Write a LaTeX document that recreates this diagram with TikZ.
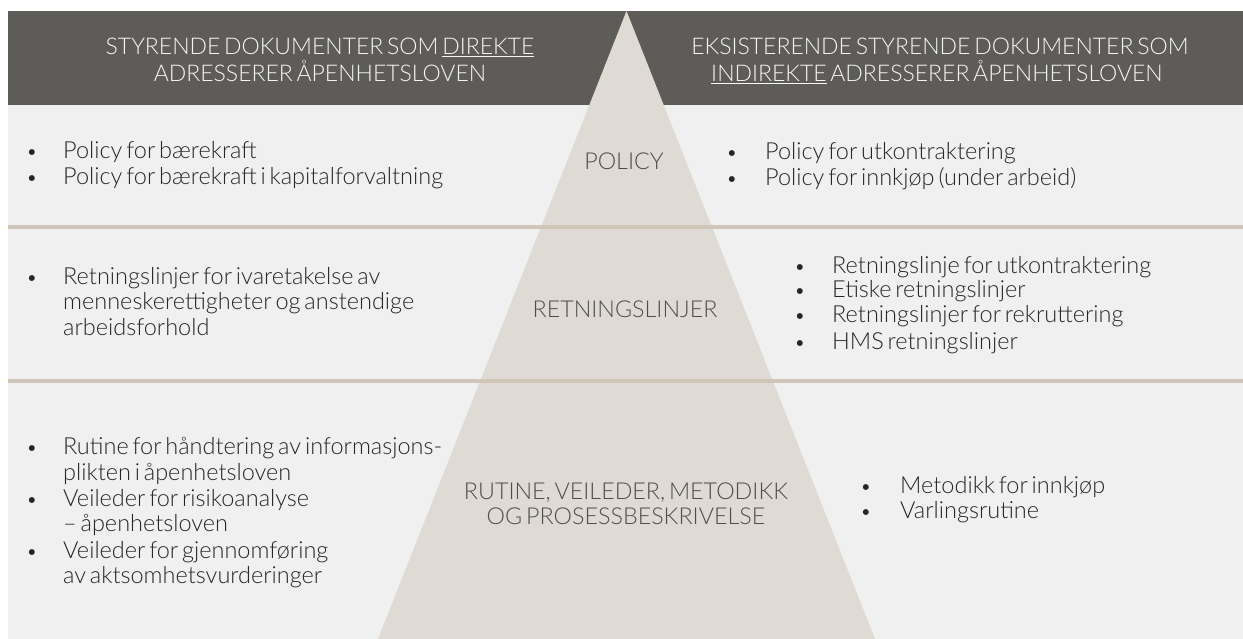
\documentclass[tikz,border=0pt]{standalone}
\usepackage{fontspec}
\setmainfont{Lato}[UprightFont={* Light}, WordSpace=0.6]
\definecolor{hdrbg}{HTML}{5E5C59}
\definecolor{bodybg}{HTML}{F0F0F0}
\definecolor{tri}{HTML}{DFDBD4}
\definecolor{sep}{HTML}{CFC5B9}
\definecolor{bodytext}{HTML}{262626}
\definecolor{lvltext}{HTML}{4F4D4B}
\definecolor{hdrtext}{HTML}{F6F6F6}
\tikzset{
  body/.style={font=\fontsize{23.5}{28}\selectfont, text=bodytext, inner sep=0pt, anchor=base west},
  bul/.style={font=\fontsize{20}{25}\selectfont, text=bodytext, inner sep=0pt, anchor=base},
  hdr/.style={font=\fontsize{23}{28}\selectfont, text=hdrtext, inner sep=0pt, anchor=base},
  lvl/.style={font=\fontsize{23.3}{28}\selectfont, text=lvltext, inner sep=0pt, anchor=base},
  sepline/.style={draw=sep, line width=4pt},
}
\begin{document}
\begin{tikzpicture}[x=1pt,y=-1pt]
\useasboundingbox (0,0) rectangle (1243,639);
\fill[white] (0,0) rectangle (1243,639);
% panels
\fill[bodybg] (8,105) rectangle (1243,639);
\fill[hdrbg] (8,11) rectangle (1243,105);
% pyramid
\fill[tri] (626.5,11) -- (875,639) -- (378,639) -- cycle;
% separators
\coordinate (s1l) at (8,227); \coordinate (s1r) at (1243,227);
\coordinate (s2l) at (8,381); \coordinate (s2r) at (1243,381);
\draw[sepline] (s1l) -- (s1r);
\draw[sepline] (s2l) -- (s2r);
% header
\node[hdr] (hl1) at (320,55) {STYRENDE DOKUMENTER SOM \underline{DIREKTE}};
\node[hdr] (hl2) at (320,82) {ADRESSERER ÅPENHETSLOVEN};
\node[hdr] (hr1) at (940,55) {EKSISTERENDE STYRENDE DOKUMENTER SOM};
\node[hdr] (hr2) at (937,82) {\underline{INDIREKTE} ADRESSERER ÅPENHETSLOVEN};
% level labels
\node[lvl] (lv1) at (624,170) {POLICY};
\node[lvl] (lv2) at (625,317) {RETNINGSLINJER};
\node[lvl] (lv3a) at (626,499) {RUTINE, VEILEDER, METODIKK};
\node[lvl] (lv3b) at (626,524) {OG PROSESSBESKRIVELSE};
% row 1 left
\node[bul] (b1a) at (32,159) {•};
\node[body] (t1a) at (63,159) {Policy for bærekraft};
\node[bul] (b1b) at (32,185) {•};
\node[body] (t1b) at (63,185) {Policy for bærekraft i kapitalforvaltning};
% row 1 right
\node[bul] (b1c) at (732,160) {•};
\node[body] (t1c) at (765,160) {Policy for utkontraktering};
\node[bul] (b1d) at (732,186) {•};
\node[body] (t1d) at (765,186) {Policy for innkjøp (under arbeid)};
% row 2 left
\node[bul] (b2a) at (32,284) {•};
\node[body] (t2a) at (63,284) {Retningslinjer for ivaretakelse av};
\node[body] (t2b) at (63,309) {menneskerettigheter og anstendige};
\node[body] (t2c) at (63,335) {arbeidsforhold};
% row 2 right
\node[bul] (b2d) at (800,273) {•};
\node[body] (t2d) at (832,273) {Retningslinje for utkontraktering};
\node[bul] (b2e) at (800,298) {•};
\node[body] (t2e) at (832,298) {Etiske retningslinjer};
\node[bul] (b2f) at (800,323) {•};
\node[body] (t2f) at (832,323) {Retningslinjer for rekruttering};
\node[bul] (b2g) at (800,349) {•};
\node[body] (t2g) at (832,349) {HMS retningslinjer};
% row 3 left
\node[bul] (b3a) at (32,454) {•};
\node[body] (t3a) at (63,454) {Rutine for håndtering av informasjons-};
\node[body] (t3b) at (63,480) {plikten i åpenhetsloven};
\node[bul] (b3c) at (32,506) {•};
\node[body] (t3c) at (63,506) {Veileder for risikoanalyse};
\node[body] (t3d) at (63,531) {– åpenhetsloven};
\node[bul] (b3e) at (32,558) {•};
\node[body] (t3e) at (63,558) {Veileder for gjennomføring};
\node[body] (t3f) at (63,583) {av aktsomhetsvurderinger};
% row 3 right
\node[bul] (b3g) at (866,493) {•};
\node[body] (t3g) at (900,493) {Metodikk for innkjøp};
\node[bul] (b3h) at (866,518) {•};
\node[body] (t3h) at (900,518) {Varlingsrutine};
\end{tikzpicture}
\end{document}
